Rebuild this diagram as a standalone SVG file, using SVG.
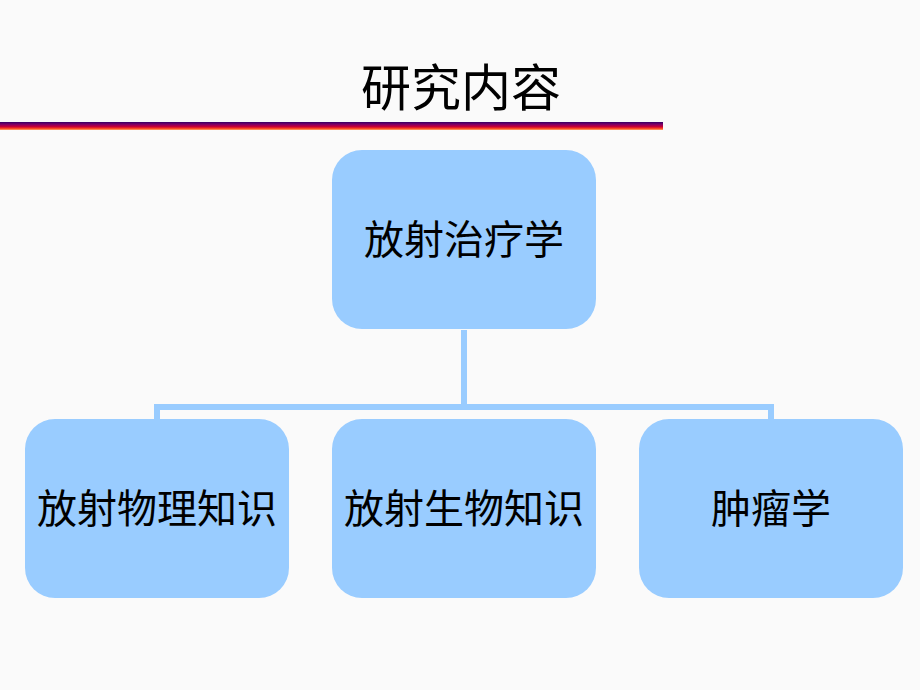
<svg xmlns="http://www.w3.org/2000/svg" width="920" height="690" viewBox="0 0 920 690">
<defs>
<linearGradient id="bar" x1="0" y1="0" x2="0" y2="1">
<stop offset="0" stop-color="#330066"/>
<stop offset="0.3" stop-color="#800066"/>
<stop offset="0.6" stop-color="#cc0033"/>
<stop offset="0.85" stop-color="#ff5522"/>
<stop offset="1" stop-color="#ffaa77"/>
</linearGradient>
<style>
.box{fill:#99ccff;stroke:none}
.lbl{font-family:"Noto Sans CJK SC","Noto Sans CJK JP",sans-serif;font-size:40px;fill:#000;text-anchor:middle}
.ttl{font-family:"Noto Sans CJK SC","Noto Sans CJK JP",sans-serif;font-size:50px;fill:#000;text-anchor:middle}
.con{fill:none;stroke:#99ccff;stroke-width:6}
</style>
</defs>
<rect width="920" height="690" fill="#fafafa"/>
<text class="ttl" x="461" y="106">研究内容</text>
<rect x="0" y="122" width="663" height="8" fill="url(#bar)"/>
<g id="connectors">
<path class="con" d="M464 330 V407"/>
<path class="con" d="M157 419 V407 H771 V419"/>
</g>
<g id="root">
<rect class="box" x="332" y="150" width="264" height="179" rx="30"/>
<text class="lbl" x="464" y="254">放射治疗学</text>
</g>
<g id="physics">
<rect class="box" x="25" y="419" width="264" height="179" rx="30"/>
<text class="lbl" x="157" y="523">放射物理知识</text>
</g>
<g id="biology">
<rect class="box" x="332" y="419" width="264" height="179" rx="30"/>
<text class="lbl" x="464" y="523">放射生物知识</text>
</g>
<g id="oncology">
<rect class="box" x="639" y="419" width="264" height="179" rx="30"/>
<text class="lbl" x="771" y="523">肿瘤学</text>
</g>
</svg>
